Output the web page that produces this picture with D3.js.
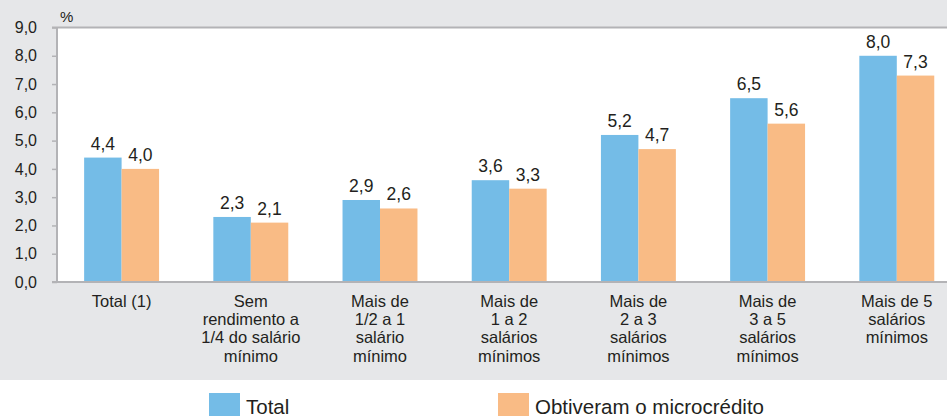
<!DOCTYPE html>
<html>
<head>
<meta charset="utf-8">
<script src="https://cdn.jsdelivr.net/npm/d3@7"></script>
<style>
  html, body { margin: 0; padding: 0; background: #fff; }
  svg { display: block; font-family: "Liberation Sans", Arial, sans-serif; }
</style>
</head>
<body>
<div id="chart"></div>
<script>
// chart data
var categories = [
    ["Total (1)"],
    ["Sem", "rendimento a", "1/4 do salário", "mínimo"],
    ["Mais de", "1/2 a 1", "salário", "mínimo"],
    ["Mais de", "1 a 2", "salários", "mínimos"],
    ["Mais de", "2 a 3", "salários", "mínimos"],
    ["Mais de", "3 a 5", "salários", "mínimos"],
    ["Mais de 5", "salários", "mínimos"]
];
var seriesNames = ["Total", "Obtiveram o microcrédito"];
var totalValues = [4.4, 2.3, 2.9, 3.6, 5.2, 6.5, 8.0];
var microValues = [4.0, 2.1, 2.6, 3.3, 4.7, 5.6, 7.3];
var yTicks = [0, 1, 2, 3, 4, 5, 6, 7, 8, 9];

var width = 947, height = 416;
var colors = ["#74bce7", "#f9bb85"];
var textColor = "#231f20";
var lineColor = "#b3b3b6";

// plot box (note: "top" is taken by window.top)
var plotLeft = 57, plotTop = 27.5, plotBottom = 282;

var svg = d3.select("#chart")
    .append("svg")
    .attr("width", width)
    .attr("height", height);

// grey panel + white plot area
svg.append("rect").attr("x", 0).attr("y", 0).attr("width", width).attr("height", 380).attr("fill", "#e6e7e9");
svg.append("rect").attr("x", plotLeft).attr("y", plotTop).attr("width", width - plotLeft).attr("height", plotBottom - plotTop).attr("fill", "#fff");

var x0 = d3.scaleBand()
    .domain(d3.range(categories.length))
    .range([plotLeft, plotLeft + 7 * 129.2])
    .paddingInner(0.42)
    .paddingOuter(0.21);

var x1 = d3.scaleBand()
    .domain(seriesNames)
    .range([0, x0.bandwidth()]);

var y = d3.scaleLinear()
    .domain([0, 9])
    .range([plotBottom, plotTop]);

var fmt = function (v) { return d3.format(".1f")(v).replace(".", ","); };

var rows = categories.map(function (c, i) {
    return { i: i, values: [totalValues[i], microValues[i]] };
});

// bars
var group = svg.selectAll("g.group")
    .data(rows)
    .enter()
    .append("g")
    .attr("class", "group")
    .attr("transform", function (d) { return "translate(" + x0(d.i) + ",0)"; });

group.selectAll("rect")
    .data(function (d) { return d.values.map(function (v, k) { return { k: k, v: v }; }); })
    .enter()
    .append("rect")
    .attr("x", function (d) { return x1(seriesNames[d.k]); })
    .attr("y", function (d) { return y(d.v); })
    .attr("width", x1.bandwidth())
    .attr("height", function (d) { return y(0) - y(d.v); })
    .attr("fill", function (d) { return colors[d.k]; });

group.selectAll("text.val")
    .data(function (d) { return d.values.map(function (v, k) { return { k: k, v: v }; }); })
    .enter()
    .append("text")
    .attr("class", "val")
    .attr("x", function (d) { return x1(seriesNames[d.k]) + x1.bandwidth() / 2; })
    .attr("y", function (d) { return y(d.v) - 8; })
    .attr("text-anchor", "middle")
    .attr("font-size", 17.5)
    .attr("fill", textColor)
    .text(function (d) { return fmt(d.v); });

// y axis
var yAxis = svg.append("g")
    .attr("transform", "translate(" + plotLeft + ",0)")
    .call(d3.axisLeft(y).tickValues(yTicks).tickSize(5).tickPadding(15).tickFormat(fmt));
yAxis.select(".domain").remove();
yAxis.selectAll(".tick line").attr("stroke", lineColor).attr("stroke-width", 1.5);
yAxis.selectAll(".tick text").attr("font-size", 16).attr("fill", textColor).attr("font-family", "Liberation Sans, Arial, sans-serif");

svg.append("line").attr("x1", plotLeft).attr("x2", plotLeft).attr("y1", plotTop).attr("y2", plotBottom)
    .attr("stroke", lineColor).attr("stroke-width", 2);
svg.append("line").attr("x1", plotLeft - 5).attr("x2", width).attr("y1", plotTop).attr("y2", plotTop)
    .attr("stroke", lineColor).attr("stroke-width", 2);
svg.append("line").attr("x1", plotLeft - 5).attr("x2", width).attr("y1", plotBottom).attr("y2", plotBottom)
    .attr("stroke", lineColor).attr("stroke-width", 2);

svg.append("text").attr("x", 60).attr("y", 22).attr("font-size", 15).attr("fill", textColor).text("%");

// category labels
var cat = svg.selectAll("text.cat")
    .data(categories)
    .enter()
    .append("text")
    .attr("class", "cat")
    .attr("text-anchor", "middle")
    .attr("font-size", 16.5)
    .attr("fill", textColor);
cat.selectAll("tspan")
    .data(function (d, i) { return d.map(function (s) { return { s: s, i: i }; }); })
    .enter()
    .append("tspan")
    .attr("x", function (d) { return x0(d.i) + x0.bandwidth() / 2; })
    .attr("y", function (d, j) { return 306.5 + j * 18.4; })
    .text(function (d) { return d.s; });

// legend
var legendX = [209, 498];
var legend = svg.selectAll("g.legend")
    .data(seriesNames)
    .enter()
    .append("g")
    .attr("class", "legend")
    .attr("transform", function (d, i) { return "translate(" + legendX[i] + ",393)"; });
legend.append("rect").attr("width", 31).attr("height", 31).attr("fill", function (d, i) { return colors[i]; });
legend.append("text").attr("x", 37).attr("y", 20.5).attr("font-size", 20.5).attr("fill", textColor)
    .text(function (d) { return d; });
</script>
</body>
</html>
